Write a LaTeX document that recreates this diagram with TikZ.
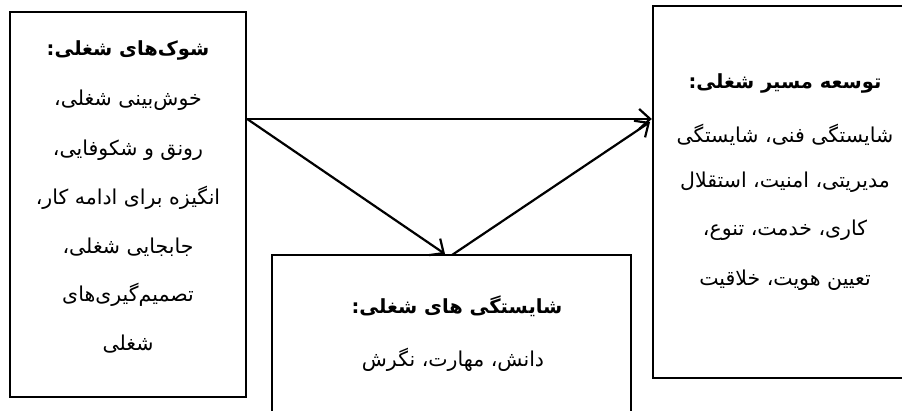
\documentclass[tikz,border=0pt]{standalone}
\usepackage{fontspec}
\usetikzlibrary{arrows.meta}
\newfontfamily\arabicfont[Script=Arabic]{DejaVu Sans}
\TeXXeTstate=1
\newcommand{\fa}[1]{\arabicfont\beginR #1\endR}
\begin{document}
\begin{tikzpicture}[x=1pt,y=-1pt,
  box/.style={draw=black,line width=2.4pt,rectangle,inner sep=0pt},
  txt/.style={inner sep=0pt,anchor=center,font=\fontsize{20.5}{24}\selectfont},
  ttl/.style={inner sep=0pt,anchor=center,font=\fontsize{19.5}{23}\selectfont\bfseries},
  arr/.style={line width=2.2pt,-{Straight Barb[length=11pt,width=20pt,line width=2.2pt]}}]
\useasboundingbox (0,0) rectangle (902,410);
\clip (0,0) rectangle (902,410);
\fill[white] (0,0) rectangle (902,410);
% boxes
\node[box,minimum width=236pt,minimum height=385pt] (shock) at (128,204.5) {};
\node[box,minimum width=359pt,minimum height=190pt] (comp) at (451.5,350) {};
\node[box,minimum width=262pt,minimum height=372pt] (dev) at (784,192) {};
% left texts
\node[ttl] (s0) at (128,50) {\fa{شوک‌های شغلی:}};
\node[txt] (s1) at (128,100) {\fa{خوش‌بینی شغلی،}};
\node[txt] (s2) at (128,150) {\fa{رونق و شکوفایی،}};
\node[txt] (s3) at (128,198) {\fa{انگیزه برای ادامه کار،}};
\node[txt] (s4) at (128,247) {\fa{جابجایی شغلی،}};
\node[txt] (s5) at (128,295) {\fa{تصمیم‌گیری‌های}};
\node[txt] (s6) at (128,344) {\fa{شغلی}};
% middle texts
\node[ttl] (c0) at (457,306) {\fa{شایستگی های شغلی:}};
\node[txt] (c1) at (453,360) {\fa{دانش، مهارت، نگرش}};
% right texts
\node[ttl] (d0) at (785,83) {\fa{توسعه مسیر شغلی:}};
\node[txt] (d1) at (785,135) {\fa{شایستگی فنی، شایستگی}};
\node[txt] (d2) at (785,182) {\fa{مدیریتی، امنیت، استقلال}};
\node[txt] (d3) at (785,230) {\fa{کاری، خدمت، تنوع،}};
\node[txt] (d4) at (785,280) {\fa{تعیین هویت، خلاقیت}};
% connectors
\coordinate (p0) at (shock.east |- 0,119);
\coordinate (m1) at (445,254);
\coordinate (m2) at (452,255);
\coordinate (r2) at (650,122);
\draw[arr] (p0) -- (dev.west |- p0);
\draw[arr] (p0) -- (m1);
\draw[arr] (m2) -- (r2);
\end{tikzpicture}
\end{document}
